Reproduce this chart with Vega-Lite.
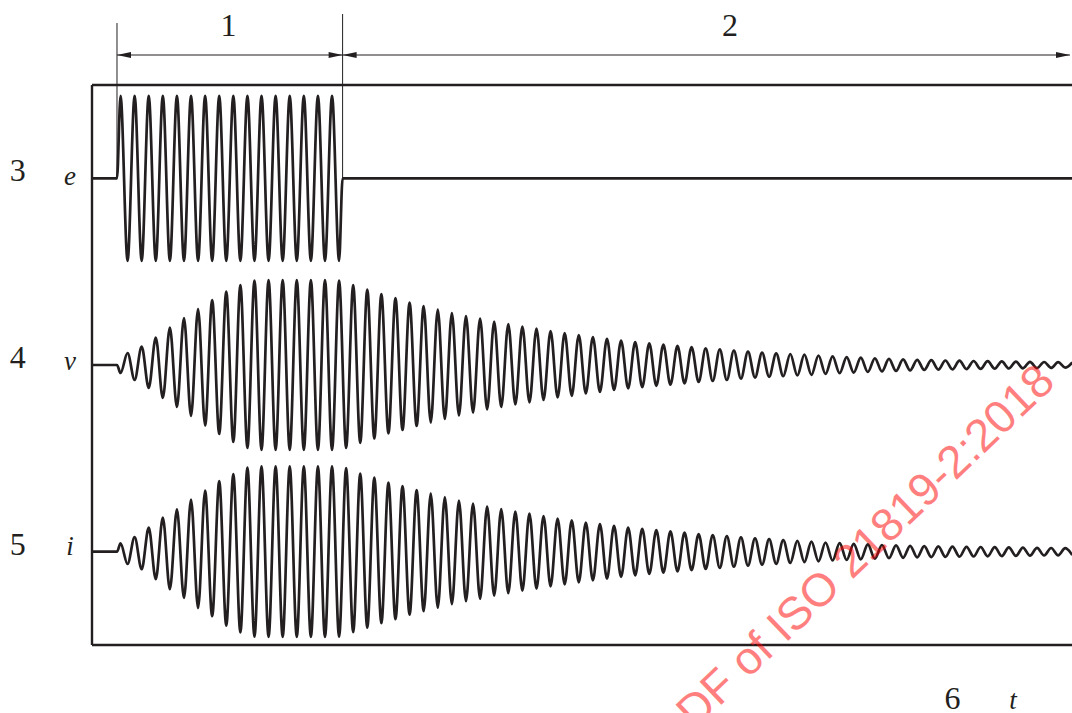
{
  "$schema": "https://vega.github.io/schema/vega-lite/v6.json",
  "width": 980,
  "height": 560,
  "autosize": {"type": "none"},
  "padding": {"left": 92, "top": 85, "right": 0, "bottom": 68},
  "background": "white",
  "config": {"view": {"stroke": null}},
  "datasets": {
    "waves": [
      {"signal":"e","t":-1.773,"level":466.7},{"signal":"e","t":0,"level":466.7},
      {"signal":"e","t":0.25,"level":549.2},{"signal":"e","t":0.75,"level":384.2},{"signal":"e","t":1.25,"level":549.2},{"signal":"e","t":1.75,"level":384.2},
      {"signal":"e","t":2.25,"level":549.2},{"signal":"e","t":2.75,"level":384.2},{"signal":"e","t":3.25,"level":549.2},{"signal":"e","t":3.75,"level":384.2},
      {"signal":"e","t":4.25,"level":549.2},{"signal":"e","t":4.75,"level":384.2},{"signal":"e","t":5.25,"level":549.2},{"signal":"e","t":5.75,"level":384.2},
      {"signal":"e","t":6.25,"level":549.2},{"signal":"e","t":6.75,"level":384.2},{"signal":"e","t":7.25,"level":549.2},{"signal":"e","t":7.75,"level":384.2},
      {"signal":"e","t":8.25,"level":549.2},{"signal":"e","t":8.75,"level":384.2},{"signal":"e","t":9.25,"level":549.2},{"signal":"e","t":9.75,"level":384.2},
      {"signal":"e","t":10.25,"level":549.2},{"signal":"e","t":10.75,"level":384.2},{"signal":"e","t":11.25,"level":549.2},{"signal":"e","t":11.75,"level":384.2},
      {"signal":"e","t":12.25,"level":549.2},{"signal":"e","t":12.75,"level":384.2},{"signal":"e","t":13.25,"level":549.2},{"signal":"e","t":13.75,"level":384.2},
      {"signal":"e","t":14.25,"level":549.2},{"signal":"e","t":14.75,"level":384.2},{"signal":"e","t":15.25,"level":549.2},{"signal":"e","t":15.75,"level":384.2},
      {"signal":"e","t":16,"level":466.7},{"signal":"e","t":67.73,"level":466.7},

      {"signal":"v","t":-1.773,"level":280},{"signal":"v","t":0,"level":280},
      {"signal":"v","t":0.25,"level":272},{"signal":"v","t":0.75,"level":292},{"signal":"v","t":1.25,"level":265},{"signal":"v","t":1.75,"level":298.5},
      {"signal":"v","t":2.25,"level":257},{"signal":"v","t":2.75,"level":307.5},{"signal":"v","t":3.25,"level":247},{"signal":"v","t":3.75,"level":317.5},
      {"signal":"v","t":4.25,"level":238},{"signal":"v","t":4.75,"level":327},{"signal":"v","t":5.25,"level":229},{"signal":"v","t":5.75,"level":336},
      {"signal":"v","t":6.25,"level":219.5},{"signal":"v","t":6.75,"level":345},{"signal":"v","t":7.25,"level":211},{"signal":"v","t":7.75,"level":353.5},
      {"signal":"v","t":8.25,"level":203},{"signal":"v","t":8.75,"level":360},{"signal":"v","t":9.25,"level":197},{"signal":"v","t":9.75,"level":364.5},
      {"signal":"v","t":10.25,"level":195},{"signal":"v","t":10.75,"level":365},{"signal":"v","t":11.25,"level":195},{"signal":"v","t":11.75,"level":365},
      {"signal":"v","t":12.25,"level":195},{"signal":"v","t":12.75,"level":365},{"signal":"v","t":13.25,"level":195},{"signal":"v","t":13.75,"level":365},
      {"signal":"v","t":14.25,"level":195},{"signal":"v","t":14.75,"level":365},{"signal":"v","t":15.25,"level":195},{"signal":"v","t":15.75,"level":364.5},
      {"signal":"v","t":16.25,"level":197},{"signal":"v","t":16.75,"level":360},{"signal":"v","t":17.25,"level":202},{"signal":"v","t":17.75,"level":355.5},
      {"signal":"v","t":18.25,"level":206.5},{"signal":"v","t":18.75,"level":351},{"signal":"v","t":19.25,"level":211.5},{"signal":"v","t":19.75,"level":347},
      {"signal":"v","t":20.25,"level":215},{"signal":"v","t":20.75,"level":342.5},{"signal":"v","t":21.25,"level":219},{"signal":"v","t":21.75,"level":339},
      {"signal":"v","t":22.25,"level":222.5},{"signal":"v","t":22.75,"level":335.5},{"signal":"v","t":23.25,"level":226},{"signal":"v","t":23.75,"level":332},
      {"signal":"v","t":24.25,"level":229.5},{"signal":"v","t":24.75,"level":329},{"signal":"v","t":25.25,"level":232.5},{"signal":"v","t":25.75,"level":326.5},
      {"signal":"v","t":26.25,"level":235.5},{"signal":"v","t":26.75,"level":323.5},{"signal":"v","t":27.25,"level":238},{"signal":"v","t":27.75,"level":321},
      {"signal":"v","t":28.25,"level":240.5},{"signal":"v","t":28.75,"level":318.5},{"signal":"v","t":29.25,"level":242.7},{"signal":"v","t":29.75,"level":316.5},
      {"signal":"v","t":30.25,"level":245},{"signal":"v","t":30.75,"level":314},{"signal":"v","t":31.25,"level":247.5},{"signal":"v","t":31.75,"level":312},
      {"signal":"v","t":32.25,"level":249.2},{"signal":"v","t":32.75,"level":310},{"signal":"v","t":33.25,"level":251.5},{"signal":"v","t":33.75,"level":308},
      {"signal":"v","t":34.25,"level":253.2},{"signal":"v","t":34.75,"level":306.2},{"signal":"v","t":35.25,"level":255},{"signal":"v","t":35.75,"level":304.5},
      {"signal":"v","t":36.25,"level":256.7},{"signal":"v","t":36.75,"level":303},{"signal":"v","t":37.25,"level":257.8},{"signal":"v","t":37.75,"level":301.6},
      {"signal":"v","t":38.25,"level":259.2},{"signal":"v","t":38.75,"level":300.4},{"signal":"v","t":39.25,"level":260.3},{"signal":"v","t":39.75,"level":299.1},
      {"signal":"v","t":40.25,"level":261.6},{"signal":"v","t":40.75,"level":297.9},{"signal":"v","t":41.25,"level":263},{"signal":"v","t":41.75,"level":296.6},
      {"signal":"v","t":42.25,"level":264},{"signal":"v","t":42.75,"level":295.6},{"signal":"v","t":43.25,"level":265},{"signal":"v","t":43.75,"level":294.3},
      {"signal":"v","t":44.25,"level":266.4},{"signal":"v","t":44.75,"level":293.3},{"signal":"v","t":45.25,"level":267.4},{"signal":"v","t":45.75,"level":292.4},
      {"signal":"v","t":46.25,"level":268.2},{"signal":"v","t":46.75,"level":291.6},{"signal":"v","t":47.25,"level":268.8},{"signal":"v","t":47.75,"level":291},
      {"signal":"v","t":48.25,"level":269.5},{"signal":"v","t":48.75,"level":290.3},{"signal":"v","t":49.25,"level":270.1},{"signal":"v","t":49.75,"level":289.5},
      {"signal":"v","t":50.25,"level":271},{"signal":"v","t":50.75,"level":288.6},{"signal":"v","t":51.25,"level":271.8},{"signal":"v","t":51.75,"level":287.9},
      {"signal":"v","t":52.25,"level":272.4},{"signal":"v","t":52.75,"level":287.3},{"signal":"v","t":53.25,"level":273},{"signal":"v","t":53.75,"level":286.7},
      {"signal":"v","t":54.25,"level":273.6},{"signal":"v","t":54.75,"level":286.1},{"signal":"v","t":55.25,"level":274.1},{"signal":"v","t":55.75,"level":285.6},
      {"signal":"v","t":56.25,"level":274.6},{"signal":"v","t":56.75,"level":285.2},{"signal":"v","t":57.25,"level":275},{"signal":"v","t":57.75,"level":284.8},
      {"signal":"v","t":58.25,"level":275.4},{"signal":"v","t":58.75,"level":284.5},{"signal":"v","t":59.25,"level":275.6},{"signal":"v","t":59.75,"level":284.3},
      {"signal":"v","t":60.25,"level":275.9},{"signal":"v","t":60.75,"level":284},{"signal":"v","t":61.25,"level":276.1},{"signal":"v","t":61.75,"level":283.8},
      {"signal":"v","t":62.25,"level":276.3},{"signal":"v","t":62.75,"level":283.6},{"signal":"v","t":63.25,"level":276.5},{"signal":"v","t":63.75,"level":283.4},
      {"signal":"v","t":64.25,"level":276.7},{"signal":"v","t":64.75,"level":283.2},{"signal":"v","t":65.25,"level":276.9},{"signal":"v","t":65.75,"level":283},
      {"signal":"v","t":66.25,"level":277.1},{"signal":"v","t":66.75,"level":282.8},{"signal":"v","t":67.25,"level":277.3},{"signal":"v","t":67.75,"level":282.6},

      {"signal":"i","t":-1.773,"level":93.3},{"signal":"i","t":0,"level":93.3},
      {"signal":"i","t":0.25,"level":101.6},{"signal":"i","t":0.75,"level":81},{"signal":"i","t":1.25,"level":107.8},{"signal":"i","t":1.75,"level":75.8},
      {"signal":"i","t":2.25,"level":117.3},{"signal":"i","t":2.75,"level":65.8},{"signal":"i","t":3.25,"level":127.3},{"signal":"i","t":3.75,"level":55.8},
      {"signal":"i","t":4.25,"level":135.6},{"signal":"i","t":4.75,"level":47},{"signal":"i","t":5.25,"level":145.3},{"signal":"i","t":5.75,"level":37},
      {"signal":"i","t":6.25,"level":154.3},{"signal":"i","t":6.75,"level":28.8},{"signal":"i","t":7.25,"level":163.8},{"signal":"i","t":7.75,"level":19.3},
      {"signal":"i","t":8.25,"level":170.8},{"signal":"i","t":8.75,"level":12.6},{"signal":"i","t":9.25,"level":177.3},{"signal":"i","t":9.75,"level":8.3},
      {"signal":"i","t":10.25,"level":178.6},{"signal":"i","t":10.75,"level":8},{"signal":"i","t":11.25,"level":178.6},{"signal":"i","t":11.75,"level":8},
      {"signal":"i","t":12.25,"level":178.6},{"signal":"i","t":12.75,"level":8},{"signal":"i","t":13.25,"level":178.6},{"signal":"i","t":13.75,"level":8},
      {"signal":"i","t":14.25,"level":178.6},{"signal":"i","t":14.75,"level":8},{"signal":"i","t":15.25,"level":178.6},{"signal":"i","t":15.75,"level":8.3},
      {"signal":"i","t":16.25,"level":176.8},{"signal":"i","t":16.75,"level":12.8},{"signal":"i","t":17.25,"level":171.3},{"signal":"i","t":17.75,"level":17.3},
      {"signal":"i","t":18.25,"level":167.3},{"signal":"i","t":18.75,"level":21.8},{"signal":"i","t":19.25,"level":162.3},{"signal":"i","t":19.75,"level":25.8},
      {"signal":"i","t":20.25,"level":158.8},{"signal":"i","t":20.75,"level":30.3},{"signal":"i","t":21.25,"level":154.8},{"signal":"i","t":21.75,"level":33.8},
      {"signal":"i","t":22.25,"level":151.3},{"signal":"i","t":22.75,"level":37.3},{"signal":"i","t":23.25,"level":147.8},{"signal":"i","t":23.75,"level":40.8},
      {"signal":"i","t":24.25,"level":144.3},{"signal":"i","t":24.75,"level":43.8},{"signal":"i","t":25.25,"level":141.3},{"signal":"i","t":25.75,"level":46.3},
      {"signal":"i","t":26.25,"level":138.3},{"signal":"i","t":26.75,"level":49.3},{"signal":"i","t":27.25,"level":135.8},{"signal":"i","t":27.75,"level":51.8},
      {"signal":"i","t":28.25,"level":133.3},{"signal":"i","t":28.75,"level":54.3},{"signal":"i","t":29.25,"level":131.3},{"signal":"i","t":29.75,"level":56.3},
      {"signal":"i","t":30.25,"level":129},{"signal":"i","t":30.75,"level":58.7},{"signal":"i","t":31.25,"level":126.5},{"signal":"i","t":31.75,"level":60.7},
      {"signal":"i","t":32.25,"level":124.7},{"signal":"i","t":32.75,"level":62.7},{"signal":"i","t":33.25,"level":122.5},{"signal":"i","t":33.75,"level":64.7},
      {"signal":"i","t":34.25,"level":120.8},{"signal":"i","t":34.75,"level":66.4},{"signal":"i","t":35.25,"level":119.1},{"signal":"i","t":35.75,"level":68.1},
      {"signal":"i","t":36.25,"level":117.4},{"signal":"i","t":36.75,"level":69.7},{"signal":"i","t":37.25,"level":116.2},{"signal":"i","t":37.75,"level":71.1},
      {"signal":"i","t":38.25,"level":114.8},{"signal":"i","t":38.75,"level":72.3},{"signal":"i","t":39.25,"level":113.6},{"signal":"i","t":39.75,"level":73.6},
      {"signal":"i","t":40.25,"level":112.3},{"signal":"i","t":40.75,"level":74.8},{"signal":"i","t":41.25,"level":111},{"signal":"i","t":41.75,"level":76},
      {"signal":"i","t":42.25,"level":110},{"signal":"i","t":42.75,"level":77.1},{"signal":"i","t":43.25,"level":108.9},{"signal":"i","t":43.75,"level":78.3},
      {"signal":"i","t":44.25,"level":107.7},{"signal":"i","t":44.75,"level":79.3},{"signal":"i","t":45.25,"level":106.7},{"signal":"i","t":45.75,"level":80.3},
      {"signal":"i","t":46.25,"level":105.8},{"signal":"i","t":46.75,"level":81.2},{"signal":"i","t":47.25,"level":104.9},{"signal":"i","t":47.75,"level":82.1},
      {"signal":"i","t":48.25,"level":104.1},{"signal":"i","t":48.75,"level":82.9},{"signal":"i","t":49.25,"level":103.3},{"signal":"i","t":49.75,"level":83.7},
      {"signal":"i","t":50.25,"level":102.5},{"signal":"i","t":50.75,"level":84.5},{"signal":"i","t":51.25,"level":101.8},{"signal":"i","t":51.75,"level":85.1},
      {"signal":"i","t":52.25,"level":101.2},{"signal":"i","t":52.75,"level":85.7},{"signal":"i","t":53.25,"level":100.6},{"signal":"i","t":53.75,"level":86.3},
      {"signal":"i","t":54.25,"level":100},{"signal":"i","t":54.75,"level":86.8},{"signal":"i","t":55.25,"level":99.6},{"signal":"i","t":55.75,"level":87.2},
      {"signal":"i","t":56.25,"level":99.2},{"signal":"i","t":56.75,"level":87.6},{"signal":"i","t":57.25,"level":98.8},{"signal":"i","t":57.75,"level":87.9},
      {"signal":"i","t":58.25,"level":98.6},{"signal":"i","t":58.75,"level":88.1},{"signal":"i","t":59.25,"level":98.4},{"signal":"i","t":59.75,"level":88.3},
      {"signal":"i","t":60.25,"level":98.2},{"signal":"i","t":60.75,"level":88.5},{"signal":"i","t":61.25,"level":98},{"signal":"i","t":61.75,"level":88.7},
      {"signal":"i","t":62.25,"level":97.8},{"signal":"i","t":62.75,"level":88.9},{"signal":"i","t":63.25,"level":97.6},{"signal":"i","t":63.75,"level":89.1},
      {"signal":"i","t":64.25,"level":97.4},{"signal":"i","t":64.75,"level":89.3},{"signal":"i","t":65.25,"level":97.2},{"signal":"i","t":65.75,"level":89.5},
      {"signal":"i","t":66.25,"level":97},{"signal":"i","t":66.75,"level":89.7},{"signal":"i","t":67.25,"level":96.8},{"signal":"i","t":67.75,"level":89.9}
    ],
    "extensions": [
      {"t": 0, "level": 467, "level2": 622},
      {"t": 16, "level": 467, "level2": 631}
    ],
    "dimensions": [
      {"name": "1", "t": 0, "t2": 16, "level": 590},
      {"name": "2", "t": 16, "t2": 67.59, "level": 590}
    ],
    "arrowheads": [
      {"t": 0, "level": 590, "dir": "left"},
      {"t": 16, "level": 590, "dir": "right"},
      {"t": 16, "level": 590, "dir": "left"},
      {"t": 67.59, "level": 590, "dir": "right"}
    ],
    "labels": [
      {"text": "1", "t": 7.9, "level": 609, "kind": "key"},
      {"text": "2", "t": 43.48, "level": 609, "kind": "key"},
      {"text": "3", "t": -7.04, "level": 463.7, "kind": "key"},
      {"text": "4", "t": -7.04, "level": 277, "kind": "key"},
      {"text": "5", "t": -7.04, "level": 90.3, "kind": "key"},
      {"text": "6", "t": 59.25, "level": -63.5, "kind": "key"},
      {"text": "e", "t": -3.33, "level": 460, "kind": "symbol"},
      {"text": "v", "t": -3.33, "level": 275, "kind": "symbol"},
      {"text": "i", "t": -3.33, "level": 90, "kind": "symbol"},
      {"text": "t", "t": 63.55, "level": -63.5, "kind": "symbol"}
    ],
    "watermark": [
      {"text": "PDF of ISO 21819-2:2018", "t": 66.67, "level": 261}
    ]
  },
  "layer": [
    {
      "data": {"values": [{}]},
      "mark": {"type": "rule", "strokeWidth": 2.4, "color": "#231f20"},
      "encoding": {"y": {"datum": 560, "type": "quantitative", "scale": {"domain": [0, 560], "nice": false, "zero": false}, "axis": null}}
    },
    {
      "data": {"values": [{}]},
      "mark": {"type": "rule", "strokeWidth": 2.4, "color": "#231f20"},
      "encoding": {"y": {"datum": 0, "type": "quantitative", "scale": {"domain": [0, 560], "nice": false, "zero": false}, "axis": null}}
    },
    {
      "data": {"values": [{}]},
      "mark": {"type": "rule", "strokeWidth": 2.4, "color": "#231f20"},
      "encoding": {"x": {"datum": -1.773, "type": "quantitative", "scale": {"domain": [-1.773, 67.73], "nice": false, "zero": false}, "axis": null}}
    },
    {
      "data": {"name": "waves"},
      "mark": {"type": "line", "interpolate": "monotone", "strokeWidth": 2.7, "color": "#231f20", "strokeJoin": "round"},
      "encoding": {
        "x": {"field": "t", "type": "quantitative", "scale": {"domain": [-1.773, 67.73], "nice": false, "zero": false}, "axis": null},
        "y": {"field": "level", "type": "quantitative", "scale": {"domain": [0, 560], "nice": false, "zero": false}, "axis": null},
        "detail": {"field": "signal"}
      }
    },
    {
      "data": {"name": "extensions"},
      "mark": {"type": "rule", "strokeWidth": 1, "color": "#231f20"},
      "encoding": {
        "x": {"field": "t", "type": "quantitative", "scale": {"domain": [-1.773, 67.73], "nice": false, "zero": false}, "axis": null},
        "y": {"field": "level", "type": "quantitative", "scale": {"domain": [0, 560], "nice": false, "zero": false}, "axis": null},
        "y2": {"field": "level2"}
      }
    },
    {
      "data": {"name": "dimensions"},
      "mark": {"type": "rule", "strokeWidth": 1, "color": "#231f20"},
      "encoding": {
        "x": {"field": "t", "type": "quantitative", "scale": {"domain": [-1.773, 67.73], "nice": false, "zero": false}, "axis": null},
        "x2": {"field": "t2"},
        "y": {"field": "level", "type": "quantitative", "scale": {"domain": [0, 560], "nice": false, "zero": false}, "axis": null}
      }
    },
    {
      "data": {"name": "arrowheads"},
      "transform": [{"filter": "datum.dir === 'left'"}],
      "mark": {"type": "point", "shape": "M0,0L2,-0.43L2,0.43Z", "size": 196, "filled": true, "opacity": 1, "color": "#231f20", "strokeWidth": 0},
      "encoding": {
        "x": {"field": "t", "type": "quantitative", "scale": {"domain": [-1.773, 67.73], "nice": false, "zero": false}, "axis": null},
        "y": {"field": "level", "type": "quantitative", "scale": {"domain": [0, 560], "nice": false, "zero": false}, "axis": null}
      }
    },
    {
      "data": {"name": "arrowheads"},
      "transform": [{"filter": "datum.dir === 'right'"}],
      "mark": {"type": "point", "shape": "M0,0L-2,-0.43L-2,0.43Z", "size": 196, "filled": true, "opacity": 1, "color": "#231f20", "strokeWidth": 0},
      "encoding": {
        "x": {"field": "t", "type": "quantitative", "scale": {"domain": [-1.773, 67.73], "nice": false, "zero": false}, "axis": null},
        "y": {"field": "level", "type": "quantitative", "scale": {"domain": [0, 560], "nice": false, "zero": false}, "axis": null}
      }
    },
    {
      "data": {"name": "labels"},
      "transform": [{"filter": "datum.kind === 'key'"}],
      "mark": {"type": "text", "font": "Liberation Serif", "fontSize": 32, "color": "#231f20", "align": "center", "baseline": "alphabetic"},
      "encoding": {
        "x": {"field": "t", "type": "quantitative", "scale": {"domain": [-1.773, 67.73], "nice": false, "zero": false}, "axis": null},
        "y": {"field": "level", "type": "quantitative", "scale": {"domain": [0, 560], "nice": false, "zero": false}, "axis": null},
        "text": {"field": "text"}
      }
    },
    {
      "data": {"name": "labels"},
      "transform": [{"filter": "datum.kind === 'symbol'"}],
      "mark": {"type": "text", "font": "Liberation Serif", "fontStyle": "italic", "fontSize": 27, "color": "#231f20", "align": "center", "baseline": "alphabetic"},
      "encoding": {
        "x": {"field": "t", "type": "quantitative", "scale": {"domain": [-1.773, 67.73], "nice": false, "zero": false}, "axis": null},
        "y": {"field": "level", "type": "quantitative", "scale": {"domain": [0, 560], "nice": false, "zero": false}, "axis": null},
        "text": {"field": "text"}
      }
    },
    {
      "data": {"name": "watermark"},
      "mark": {"type": "text", "font": "Liberation Sans", "fontSize": 46, "color": "#ff0000", "opacity": 0.5, "angle": -43.7, "align": "right", "baseline": "alphabetic"},
      "encoding": {
        "x": {"field": "t", "type": "quantitative", "scale": {"domain": [-1.773, 67.73], "nice": false, "zero": false}, "axis": null},
        "y": {"field": "level", "type": "quantitative", "scale": {"domain": [0, 560], "nice": false, "zero": false}, "axis": null},
        "text": {"field": "text"}
      }
    }
  ]
}
